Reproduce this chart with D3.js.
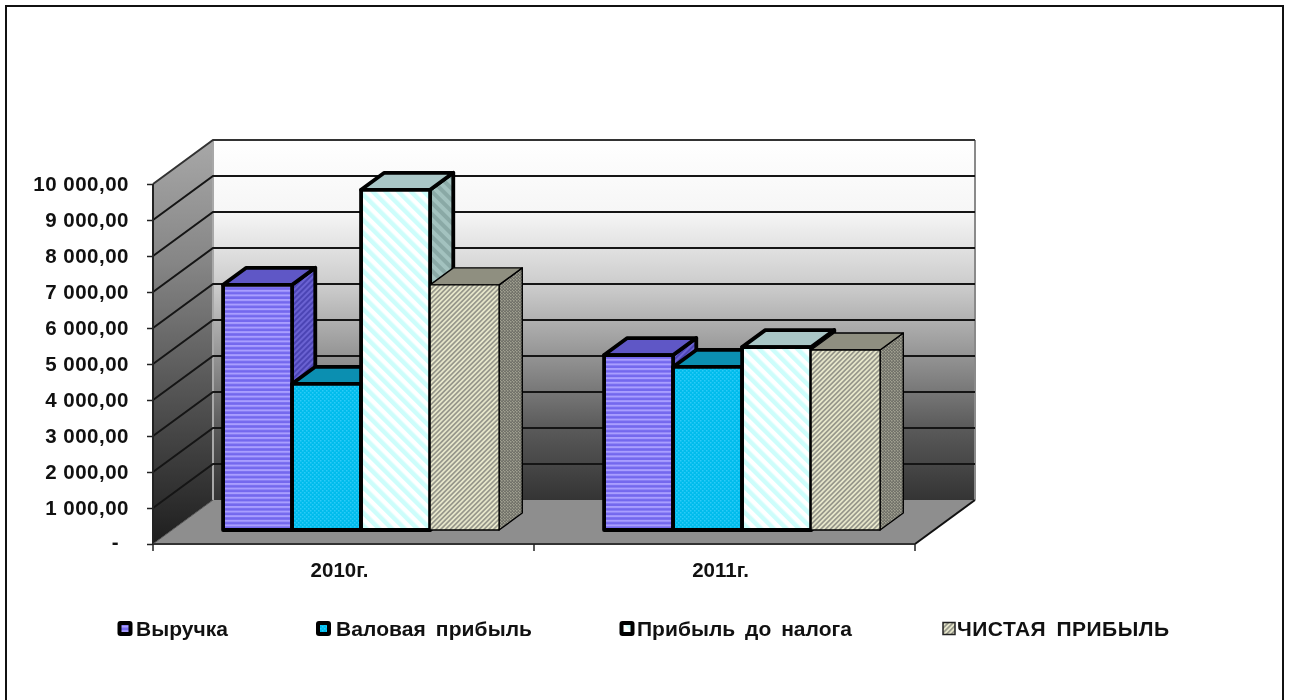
<!DOCTYPE html>
<html><head><meta charset="utf-8">
<script src="https://cdnjs.cloudflare.com/ajax/libs/d3/7.8.5/d3.min.js"></script>
<style>
html,body{margin:0;padding:0;background:#fff;overflow:hidden}
svg{display:block;filter:blur(0.35px)}
text{font-family:"Liberation Sans",Arial,sans-serif;font-weight:bold;fill:#111}
</style></head><body>
<svg id="c" width="1291" height="700"></svg>
<script>
const categories = ["2010г.", "2011г."];
const seriesNames = ["Выручка", "Валовая прибыль", "Прибыль до налога", "ЧИСТАЯ ПРИБЫЛЬ"];
const revenue = [6810, 4860];
const grossProfit = [4060, 4530];
const preTaxProfit = [9450, 5080];
const netProfit = [6810, 5000];
const tickValues = [0,1000,2000,3000,4000,5000,6000,7000,8000,9000,10000];
const tickLabels = ["-","1 000,00","2 000,00","3 000,00","4 000,00","5 000,00","6 000,00","7 000,00","8 000,00","9 000,00","10 000,00"];
const seriesValues = [revenue, grossProfit, preTaxProfit, netProfit];

const svg = d3.select("#c");
const defs = svg.append("defs");

const dX = 60, dY = 44;
const barNear = 14/44, barFar = 31/44;
const y = d3.scaleLinear().domain([0,10000]).range([544,184]);
const x0 = d3.scaleBand().domain(categories).range([153,915]);
const x1 = d3.scaleBand().domain(seriesNames).range([51, 327]);

function grad(id, stops){
  const g = defs.append("linearGradient").attr("id",id).attr("x1",0).attr("y1",0).attr("x2",0).attr("y2",1);
  stops.forEach(([o,c])=>g.append("stop").attr("offset",o).attr("stop-color",c));
}
grad("wall",[[0,"#ffffff"],[0.2,"#f6f6f6"],[0.42,"#c8c8c8"],[0.62,"#8e8e8e"],[0.8,"#5a5a5a"],[1,"#343434"]]);
grad("side",[[0,"#a8a8a8"],[0.3,"#868686"],[0.6,"#585858"],[1,"#1e1e1e"]]);

function pat(id, w, h, bg, draw, rot){
  const p = defs.append("pattern").attr("id",id).attr("patternUnits","userSpaceOnUse").attr("width",w).attr("height",h);
  if(rot) p.attr("patternTransform","rotate("+rot+")");
  p.append("rect").attr("width",w).attr("height",h).attr("fill",bg);
  draw(p);
}
const stripe=(c,sw)=>p=>p.append("rect").attr("width",40).attr("height",sw).attr("fill",c);
const dots=(c)=>p=>{p.append("rect").attr("x",0).attr("y",0).attr("width",1.5).attr("height",1.5).attr("fill",c);
  p.append("rect").attr("x",2).attr("y",2).attr("width",1.5).attr("height",1.5).attr("fill",c);};
pat("p0f",40,4.6,"#7468ee",stripe("#a99eff",2));
pat("p0s",4,4,"#4b44b4",stripe("#6a62d2",2),-45);
pat("p1f",4,4,"#00bcec",dots("#2ccbf8"));
pat("p1s",4,4,"#0a8db0",dots("#1496ba"));
pat("p2f",9,9,"#cdfdfb",stripe("#ffffff",4.5),45);
pat("p2s",8,8,"#8aa9a6",stripe("#a3c2bf",4),45);
pat("p3f",3.4,3.4,"#98988c",stripe("#e6e6ca",1.7),-45);
pat("p3s",3,3,"#72726a",dots("#a0a090"));

const topFill = ["#5f57c6","#0b8fb1","#a9c6c6","#8f8f80"];
const strokeW = [3.8,3.8,3.8,1.4];

const xL=x0.range()[0], xR=x0.range()[1];
const poly=(pts,fill)=>svg.append("polygon").attr("points",pts.map(p=>p.join(",")).join(" ")).attr("fill",fill);
poly([[xL+dX,y(10000)-dY],[xR+dX,y(10000)-dY],[xR+dX,y(0)-dY],[xL+dX,y(0)-dY]],"url(#wall)");
poly([[xL,y(10000)],[xL+dX,y(10000)-dY],[xL+dX,y(0)-dY],[xL,y(0)]],"url(#side)");
poly([[xL,y(0)],[xL+dX,y(0)-dY],[xR+dX,y(0)-dY],[xR,y(0)]],"#8e8e8e");

svg.append("line").attr("x1",xR+dX).attr("x2",xR+dX).attr("y1",y(10000)-dY).attr("y2",y(0)-dY).attr("stroke","#8a8a8a").attr("stroke-width",2);
svg.append("line").attr("x1",xL+dX).attr("x2",xL+dX).attr("y1",y(10000)-dY).attr("y2",y(0)-dY).attr("stroke","#a8a8a8").attr("stroke-width",2);

tickValues.forEach(v=>{
  if(v===0) return;
  svg.append("polyline").attr("fill","none").attr("stroke",v===10000?"#333":"#151515").attr("stroke-width",2)
    .attr("points",[[xL,y(v)],[xL+dX,y(v)-dY],[xR+dX,y(v)-dY]].map(p=>p.join(",")).join(" "));
});
svg.append("line").attr("x1",xR).attr("y1",y(0)).attr("x2",xR+dX).attr("y2",y(0)-dY).attr("stroke","#111").attr("stroke-width",2);
svg.append("line").attr("x1",xL).attr("y1",y(0)).attr("x2",xL+dX).attr("y2",y(0)-dY).attr("stroke","#555").attr("stroke-width",1);

categories.forEach((cat,ci)=>{
  seriesNames.forEach((name,si)=>{
    const v = seriesValues[si][ci];
    const xa = x0(cat)+x1(name)+dX*barNear, xb = xa+x1.bandwidth();
    const shiftY = dY*barNear, ya = y(v)-shiftY, yb = y(0)-shiftY;
    const ox = dX*(barFar-barNear), oy = dY*(barFar-barNear);
    const g = svg.append("g").attr("stroke","#000").attr("stroke-width",strokeW[si]).attr("stroke-linejoin","round");
    const face=(pts,fill)=>g.append("polygon").attr("points",pts.map(p=>p.join(",")).join(" ")).attr("fill",fill);
    face([[xb,ya],[xb+ox,ya-oy],[xb+ox,yb-oy],[xb,yb]],"url(#p"+si+"s)");
    face([[xa,ya],[xa+ox,ya-oy],[xb+ox,ya-oy],[xb,ya]],topFill[si]);
    face([[xa,ya],[xb,ya],[xb,yb],[xa,yb]],"url(#p"+si+"f)");
  });
});

const yAxis = d3.axisLeft(y).tickValues(tickValues).tickFormat((d,i)=>tickLabels[i]).tickSize(6).tickPadding(18);
const gy = svg.append("g").attr("transform","translate("+xL+",0)").call(yAxis);
gy.attr("font-family",null).attr("font-size",null);
gy.selectAll("line").attr("stroke","#222").attr("stroke-width",1.5);
gy.select(".domain").attr("stroke","#222").attr("stroke-width",2).attr("d","M0,"+y(10000)+"V"+y(0));
gy.selectAll("text").attr("font-size",20.5).style("letter-spacing","0.5px")
  .attr("dx",d=>d===0?-10:0).attr("dy",d=>d===0?"0.2em":"0.34em");

const xAxis = d3.axisBottom(x0).tickSize(0).tickPadding(18);
const gx = svg.append("g").attr("transform","translate(0,"+y(0)+")").call(xAxis);
gx.attr("font-family",null).attr("font-size",null);
gx.select(".domain").attr("stroke","#333").attr("stroke-width",2).attr("d","M"+xL+",0H"+xR);
gx.selectAll("text").attr("font-size",20.5).attr("dx",-4);
[xL, xL+x0.step(), xR].forEach(t=>svg.append("line").attr("x1",t).attr("x2",t).attr("y1",y(0)).attr("y2",y(0)+7).attr("stroke","#222").attr("stroke-width",1.5));

const legendMarks=[125,323.5,627,949], legendText=[136,336,637,957], legendWidths=[92,196,215,212];
const leg = svg.append("g");
seriesNames.forEach((name,i)=>{
  const cx=legendMarks[i], cy=628.5;
  if(i<3){
    leg.append("rect").attr("x",cx-7.5).attr("y",cy-7.5).attr("width",15).attr("height",15).attr("rx",3).attr("fill","#000");
    leg.append("rect").attr("x",cx-3.5).attr("y",cy-3.5).attr("width",7).attr("height",7).attr("fill","url(#p"+i+"f)");
  } else {
    leg.append("rect").attr("x",cx-6).attr("y",cy-6).attr("width",12).attr("height",12).attr("fill","url(#p3f)").attr("stroke","#222").attr("stroke-width",1.5);
  }
  leg.append("text").attr("x",legendText[i]).attr("y",cy+7).attr("font-size",21).attr("word-spacing",4)
    .attr("textLength",legendWidths[i]).attr("lengthAdjust","spacing").text(name);
});

svg.append("path").attr("d","M6,700V6H1283V700").attr("fill","none").attr("stroke","#111").attr("stroke-width",2);
</script>
</body></html>
